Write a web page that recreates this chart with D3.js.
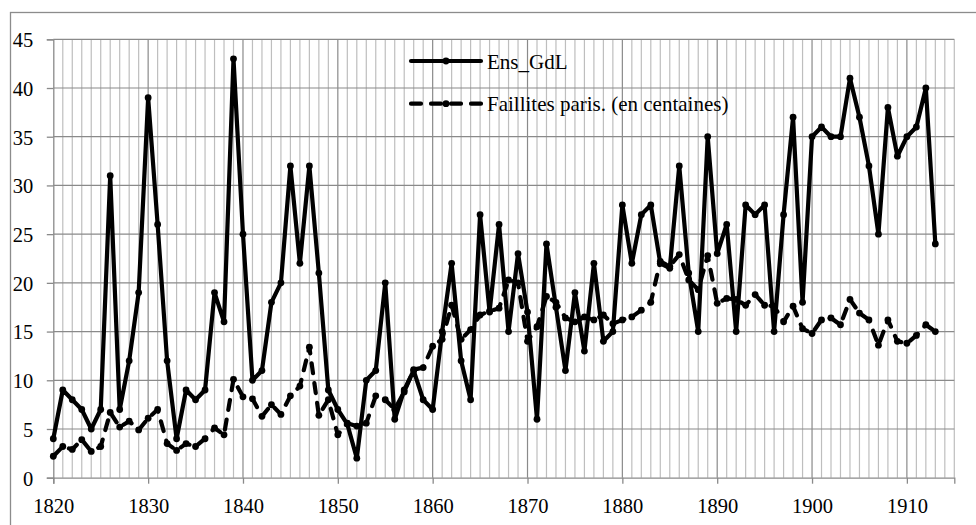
<!DOCTYPE html>
<html>
<head>
<meta charset="utf-8">
<script src="https://cdn.jsdelivr.net/npm/d3@7"></script>
<style>
  body { margin: 0; background: #fff; }
</style>
</head>
<body>
<script>
// chart size
var w = 976, h = 525;
var serif = "'Liberation Serif'";

// years on the x axis (one point per year)
var years = d3.range(1820, 1914);
var decadeTicks = [1820, 1830, 1840, 1850, 1860, 1870, 1880, 1890, 1900, 1910];
var yTicks = [0, 5, 10, 15, 20, 25, 30, 35, 40, 45];

// series names
var seriesNames = ["Ens_GdL", "Faillites paris. (en centaines)"];

// Ens_GdL, 1820 -> 1913
var ensGdL = [
  4, 9, 8, 7, 5, 7, 31, 7, 12, 19,
  39, 26, 12, 4, 9, 8, 9, 19, 16, 43,
  25, 10, 11, 18, 20, 32, 22, 32, 21, 9,
  7, 5.5, 2, 10, 11, 20, 6, 9, 11, 8,
  7, 15, 22, 12, 8, 27, 17, 26, 15, 23,
  17, 6, 24, 17.5, 11, 19, 13, 22, 14, 15,
  28, 22, 27, 28, 22, 21.5, 32, 21, 15, 35,
  23, 26, 15, 28, 27, 28, 15, 27, 37, 18,
  35, 36, 35, 35, 41, 37, 32, 25, 38, 33,
  35, 36, 40, 24
];

// faillites parisiennes (centaines), 1820 -> 1913
var faillites = [
  2.2, 3.2, 2.9, 3.9, 2.7, 3.2, 6.7, 5.2, 5.8, 4.9,
  6.1, 7.0, 3.5, 2.8, 3.5, 3.2, 4.0, 5.1, 4.4, 10.1,
  8.3, 8.1, 6.3, 7.5, 6.5, 8.4, 9.4, 13.4, 6.4, 8.0,
  4.4, 5.6, 5.3, 5.6, 8.4, 8.0, 7.0, 8.8, 11.1, 11.3,
  13.5, 14.2, 17.7, 14.2, 15.2, 16.7, 17.1, 17.4, 20.3, 20.0,
  14.0, 15.5, 18.6, 18.0, 16.4, 16.0, 16.5, 16.2, 16.7, 15.8,
  16.2, 16.5, 17.2, 18.0, 22.2, 21.7, 22.9, 20.3, 19.3, 22.8,
  17.9, 18.4, 18.3, 17.7, 18.8, 17.7, 17.6, 16.0, 17.6, 15.3,
  14.8, 16.2, 16.4, 15.7, 18.3, 16.9, 16.2, 13.6, 16.2, 14.0,
  13.8, 14.6, 15.7, 15.0
];

var svg = d3.select("body").append("svg")
  .attr("width", w)
  .attr("height", h);

// outer chart border (runs off the right/bottom of the picture)
svg.append("rect")
  .attr("x", 10.5).attr("y", 12.5)
  .attr("width", 1000).attr("height", 600)
  .attr("fill", "#fff")
  .attr("stroke", "#8c8c8c")
  .attr("stroke-width", 1.3);

var x = d3.scaleLinear().domain([1820, 1915]).range([53.3, 954.3]);
var y = d3.scaleLinear().domain([0, 45]).range([477.7, 39.3]);

// vertical grid: one light line per year, darker each decade
svg.append("g").selectAll("line")
  .data(d3.range(1821, 1916))
  .enter().append("line")
  .attr("x1", function(d){ return x(d); })
  .attr("x2", function(d){ return x(d); })
  .attr("y1", y(45)).attr("y2", y(0))
  .attr("stroke", function(d){ return d % 10 === 0 ? "#8a8a8a" : "#bebebe"; })
  .attr("stroke-width", 1.2);

// horizontal grid
svg.append("g").selectAll("line")
  .data(yTicks.slice(1))
  .enter().append("line")
  .attr("x1", x(1820)).attr("x2", x(1915))
  .attr("y1", function(d){ return y(d); })
  .attr("y2", function(d){ return y(d); })
  .attr("stroke", "#8a8a8a")
  .attr("stroke-width", 1.2);

// axes
var yAxis = svg.append("g")
  .attr("transform", "translate(" + x(1820) + ",0)")
  .call(d3.axisLeft(y).tickValues(yTicks).tickSize(6.5).tickPadding(13.5));
var xAxis = svg.append("g")
  .attr("transform", "translate(0," + y(0) + ")")
  .call(d3.axisBottom(x).tickValues(decadeTicks).tickSize(6).tickPadding(15).tickFormat(d3.format("d")));

[yAxis, xAxis].forEach(function(a){
  a.attr("font-family", null).attr("font-size", null);
  a.select(".domain").attr("stroke", "#8a8a8a").attr("stroke-width", 1.3);
  a.selectAll(".tick line").attr("stroke", "#8a8a8a").attr("stroke-width", 1.3);
  a.selectAll("text")
    .style("font-family", serif)
    .attr("font-size", 20.5)
    .attr("fill", "#000");
});
yAxis.selectAll("text").attr("dy", "0.36em");

var line = d3.line()
  .x(function(d, i){ return x(years[i]); })
  .y(function(d){ return y(d); });

var styles = [
  { data: ensGdL, dash: null },
  { data: faillites, dash: "10,10" }
];

styles.forEach(function(s){
  svg.append("path")
    .datum(s.data)
    .attr("d", line)
    .attr("fill", "none")
    .attr("stroke", "#000")
    .attr("stroke-width", 4.2)
    .attr("stroke-linejoin", "round")
    .attr("stroke-linecap", "round")
    .attr("stroke-dasharray", s.dash);
  svg.append("g").selectAll("circle")
    .data(s.data)
    .enter().append("circle")
    .attr("cx", function(d, i){ return x(years[i]); })
    .attr("cy", function(d){ return y(d); })
    .attr("r", 3.4)
    .attr("fill", "#000");
});

// legend
var legend = svg.append("g").selectAll("g")
  .data(seriesNames)
  .enter().append("g")
  .attr("transform", function(d, i){ return "translate(410," + (61 + i * 42.7) + ")"; });
legend.append("line")
  .attr("x1", 1).attr("x2", 71)
  .attr("stroke", "#000")
  .attr("stroke-width", 4.2)
  .attr("stroke-linecap", "round")
  .attr("stroke-dasharray", function(d, i){ return styles[i].dash; });
legend.append("circle")
  .attr("cx", 36).attr("r", 3.4).attr("fill", "#000");
legend.append("text")
  .attr("x", 77).attr("y", 7.5)
  .style("font-family", serif)
  .attr("font-size", 21)
  .text(function(d){ return d; });
</script>
</body>
</html>
